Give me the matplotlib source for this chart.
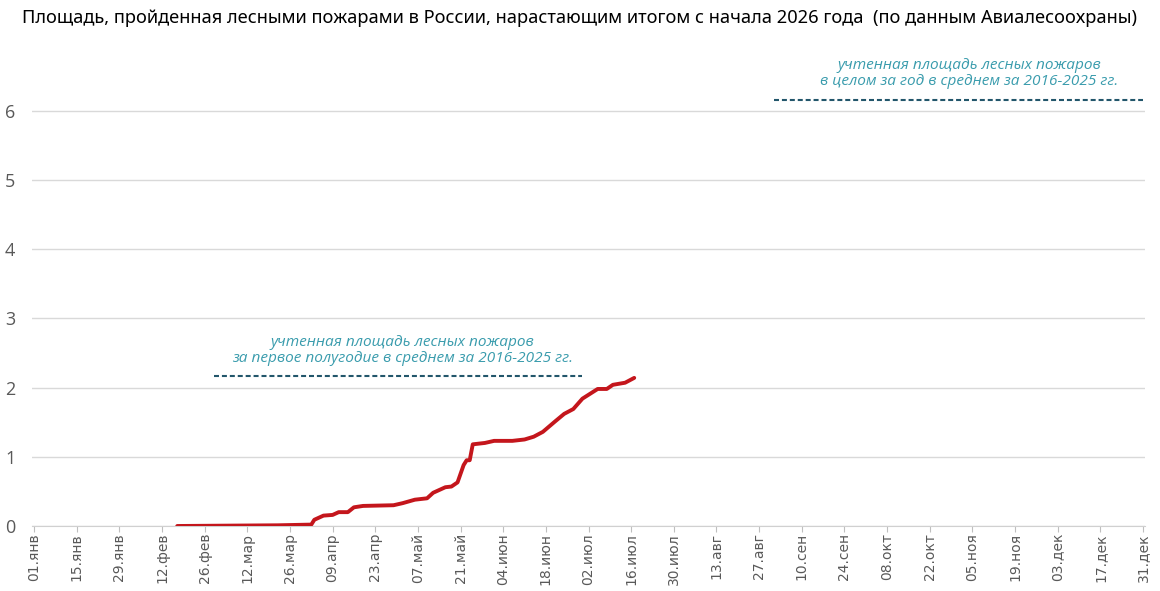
import pandas as pd
import numpy as np
import matplotlib
matplotlib.use("Agg")
import matplotlib.pyplot as plt

# накопленная площадь, млн га
даты = ["2026-02-17", "2026-03-22", "2026-04-02", "2026-04-03", "2026-04-06",
        "2026-04-09", "2026-04-11", "2026-04-14", "2026-04-16", "2026-04-19",
        "2026-04-29", "2026-05-02", "2026-05-06", "2026-05-10", "2026-05-12",
        "2026-05-16", "2026-05-18", "2026-05-20", "2026-05-22", "2026-05-23",
        "2026-05-24", "2026-05-25", "2026-05-29", "2026-06-01", "2026-06-07",
        "2026-06-11", "2026-06-14", "2026-06-17", "2026-06-21", "2026-06-24",
        "2026-06-27", "2026-06-30", "2026-07-05", "2026-07-08", "2026-07-10",
        "2026-07-14", "2026-07-17"]
площадь = [0.0, 0.01, 0.02, 0.09, 0.15,
           0.16, 0.2, 0.2, 0.27, 0.29,
           0.3, 0.33, 0.38, 0.4, 0.48,
           0.56, 0.57, 0.63, 0.88, 0.95,
           0.95, 1.18, 1.2, 1.23, 1.23,
           1.25, 1.29, 1.36, 1.51, 1.62,
           1.69, 1.84, 1.98, 1.98, 2.04,
           2.07, 2.14]

# средние за 2016-2025
полугодие_начало, полугодие_конец, полугодие_уровень = "2026-03-01", "2026-06-30", 2.17
год_начало, год_конец, год_уровень = "2026-09-01", "2026-12-31", 6.16

тики = pd.date_range("2026-01-01", "2026-12-31", freq="14D")
месяцы = ["янв", "фев", "мар", "апр", "май", "июн", "июл", "авг", "сен", "окт", "ноя", "дек"]
подписи = [f"{d.day:02d}.{месяцы[d.month - 1]}" for d in тики]

fig = plt.figure(figsize=(11.6, 5.91), dpi=100)
ax = fig.add_axes([0.0276, 0.110, 0.9594, 0.808])

x = pd.to_datetime(даты)
ax.plot(x, площадь, color="#c4161c", lw=2.8, solid_capstyle="round",
        solid_joinstyle="round", zorder=3)

штрих = (0, (2.4, 1.4))
ax.plot(pd.to_datetime([полугодие_начало, полугодие_конец]), [полугодие_уровень] * 2,
        color="#22566b", lw=1.5, ls=штрих)
ax.plot(pd.to_datetime([год_начало, год_конец]), [год_уровень] * 2,
        color="#22566b", lw=1.5, ls=штрих)

цвет_текста = "#3a9cad"
ax.text(pd.Timestamp("2026-05-02"), 2.53,
        "учтенная площадь лесных пожаров\nза первое полугодие в среднем за 2016-2025 гг.",
        ha="center", va="center", fontsize=11.1, style="italic", color=цвет_текста,
        family="Open Sans", linespacing=1.1)
ax.text(pd.Timestamp("2026-11-04"), 6.54,
        "учтенная площадь лесных пожаров\nв целом за год в среднем за 2016-2025 гг.",
        ha="center", va="center", fontsize=11.1, style="italic", color=цвет_текста,
        family="Open Sans", linespacing=1.1)

ax.set_xlim(pd.Timestamp("2026-01-01") - pd.Timedelta(hours=16),
            pd.Timestamp("2026-12-31") + pd.Timedelta(hours=15))
ax.set_ylim(0, 6.9)
ax.set_yticks(range(0, 7))
ax.set_xticks(тики)
ax.set_xticklabels(подписи, rotation=90, fontsize=10, color="#595959")
ax.tick_params(axis="y", length=0, labelsize=13, labelcolor="#595959", pad=12)
ax.tick_params(axis="x", length=4, color="#bfbfbf", pad=1)
for lbl in ax.get_yticklabels():
    lbl.set_family("Open Sans")

ax.grid(axis="y", color="#d9d9d9", lw=1)
ax.set_axisbelow(True)
for s in ["top", "right", "left"]:
    ax.spines[s].set_visible(False)
ax.spines["bottom"].set_color("#d0d0d0")

fig.text(0.5, 0.984,
         "Площадь, пройденная лесными пожарами в России, нарастающим итогом с начала 2026 года  (по данным Авиалесоохраны)",
         ha="center", va="top", fontsize=13.15, family="Noto Sans", color="#000000")

fig.savefig("out.png", dpi=100)
